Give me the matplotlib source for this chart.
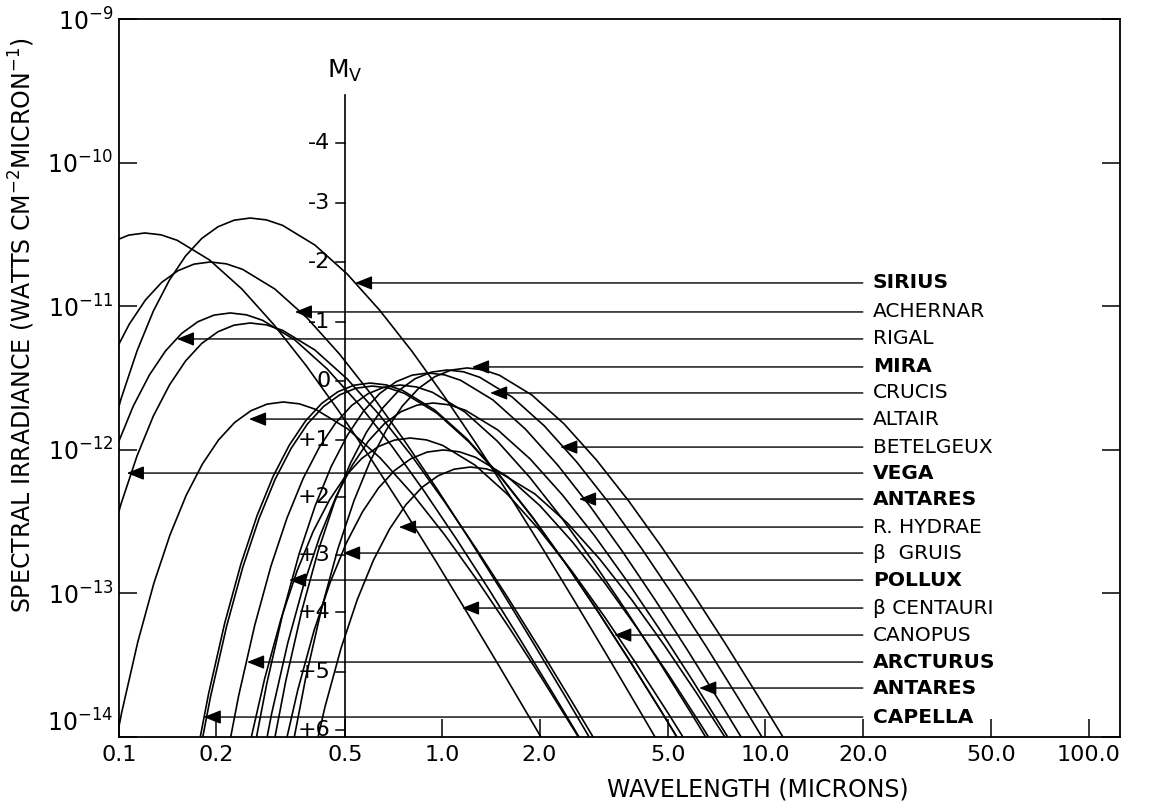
import numpy as np
import matplotlib.pyplot as plt

# curves, stored as log10(wavelength, microns) and
# log10(spectral irradiance, W cm^-2 micron^-1)
bcen_lwl = [-1.020, -0.970, -0.920, -0.870, -0.820, -0.720, -0.620, -0.520, -0.420, -0.320, -0.220, -0.120, -0.020, 0.080, 0.180, 0.280, 0.380]
bcen_lfl = [-10.551, -10.505, -10.490, -10.503, -10.541, -10.678, -10.880, -11.131, -11.417, -11.731, -12.065, -12.414, -12.775, -13.145, -13.521, -13.903, -14.288]

sirius_lwl = [-1.044, -0.994, -0.944, -0.894, -0.844, -0.794, -0.744, -0.694, -0.644, -0.594, -0.544, -0.494, -0.394, -0.294, -0.194, -0.094, 0.006, 0.106, 0.206, 0.306, 0.406, 0.506, 0.606, 0.706]
sirius_lfl = [-12.058, -11.647, -11.310, -11.035, -10.818, -10.650, -10.528, -10.447, -10.401, -10.386, -10.399, -10.437, -10.574, -10.776, -11.027, -11.313, -11.627, -11.961, -12.310, -12.671, -13.041, -13.417, -13.799, -14.184]

achernar_lwl = [-1.018, -0.968, -0.918, -0.868, -0.818, -0.768, -0.718, -0.668, -0.618, -0.518, -0.418, -0.318, -0.218, -0.118, -0.018, 0.082, 0.182, 0.282, 0.382, 0.482]
achernar_lfl = [-11.341, -11.124, -10.956, -10.834, -10.753, -10.707, -10.692, -10.705, -10.743, -10.880, -11.082, -11.333, -11.619, -11.933, -12.267, -12.616, -12.977, -13.347, -13.723, -14.105]

rigel_lwl = [-1.006, -0.956, -0.906, -0.856, -0.806, -0.756, -0.706, -0.656, -0.606, -0.556, -0.456, -0.356, -0.256, -0.156, -0.056, 0.044, 0.144, 0.244, 0.344, 0.444]
rigel_lfl = [-11.971, -11.696, -11.479, -11.311, -11.189, -11.108, -11.062, -11.047, -11.060, -11.098, -11.235, -11.437, -11.688, -11.974, -12.288, -12.622, -12.971, -13.332, -13.702, -14.078]

vega_lwl = [-1.044, -0.994, -0.944, -0.894, -0.844, -0.794, -0.744, -0.694, -0.644, -0.594, -0.544, -0.494, -0.394, -0.294, -0.194, -0.094, 0.006, 0.106, 0.206, 0.306, 0.406, 0.506]
vega_lfl = [-12.789, -12.378, -12.041, -11.766, -11.549, -11.381, -11.259, -11.178, -11.132, -11.117, -11.130, -11.168, -11.305, -11.507, -11.758, -12.044, -12.358, -12.692, -13.041, -13.402, -13.772, -14.148]

altair_lwl = [-1.042, -0.992, -0.942, -0.892, -0.842, -0.792, -0.742, -0.692, -0.642, -0.592, -0.542, -0.492, -0.442, -0.392, -0.292, -0.192, -0.092, 0.008, 0.108, 0.208, 0.308, 0.408, 0.508]
altair_lfl = [-14.416, -13.832, -13.339, -12.928, -12.591, -12.316, -12.099, -11.931, -11.809, -11.728, -11.682, -11.667, -11.680, -11.718, -11.855, -12.057, -12.308, -12.594, -12.908, -13.242, -13.591, -13.952, -14.322]

mira_lwl = [-0.473, -0.423, -0.373, -0.323, -0.273, -0.223, -0.173, -0.123, -0.073, -0.023, 0.027, 0.077, 0.127, 0.177, 0.277, 0.377, 0.477, 0.577, 0.677, 0.777, 0.877, 0.977, 1.077]
mira_lfl = [-14.179, -13.595, -13.102, -12.691, -12.354, -12.079, -11.862, -11.694, -11.572, -11.491, -11.445, -11.430, -11.443, -11.481, -11.618, -11.820, -12.071, -12.357, -12.671, -13.005, -13.354, -13.715, -14.085]

betel_lwl = [-0.534, -0.484, -0.434, -0.384, -0.334, -0.284, -0.234, -0.184, -0.134, -0.084, -0.034, 0.016, 0.066, 0.116, 0.216, 0.316, 0.416, 0.516, 0.616, 0.716, 0.816, 0.916, 1.016]
betel_lfl = [-14.193, -13.609, -13.116, -12.705, -12.368, -12.093, -11.876, -11.708, -11.586, -11.505, -11.459, -11.444, -11.457, -11.495, -11.632, -11.834, -12.085, -12.371, -12.685, -13.019, -13.368, -13.729, -14.099]

antares_lwl = [-0.593, -0.543, -0.493, -0.443, -0.393, -0.343, -0.293, -0.243, -0.193, -0.143, -0.093, -0.043, 0.007, 0.057, 0.157, 0.257, 0.357, 0.457, 0.557, 0.657, 0.757, 0.857, 0.957]
antares_lfl = [-14.214, -13.630, -13.137, -12.726, -12.389, -12.114, -11.897, -11.729, -11.607, -11.526, -11.480, -11.465, -11.478, -11.516, -11.653, -11.855, -12.106, -12.392, -12.706, -13.040, -13.389, -13.750, -14.120]

crucis_lwl = [-0.680, -0.630, -0.580, -0.530, -0.480, -0.430, -0.380, -0.330, -0.280, -0.230, -0.180, -0.130, -0.080, -0.030, 0.070, 0.170, 0.270, 0.370, 0.470, 0.570, 0.670, 0.770, 0.870]
crucis_lfl = [-14.298, -13.714, -13.221, -12.810, -12.473, -12.198, -11.981, -11.813, -11.691, -11.610, -11.564, -11.549, -11.562, -11.600, -11.737, -11.939, -12.190, -12.476, -12.790, -13.124, -13.473, -13.834, -14.204]

canopus_lwl = [-0.773, -0.723, -0.673, -0.623, -0.573, -0.523, -0.473, -0.423, -0.373, -0.323, -0.273, -0.223, -0.173, -0.123, -0.023, 0.077, 0.177, 0.277, 0.377, 0.477, 0.577, 0.677, 0.777]
canopus_lfl = [-14.284, -13.700, -13.207, -12.796, -12.459, -12.184, -11.967, -11.799, -11.677, -11.596, -11.550, -11.535, -11.548, -11.586, -11.723, -11.925, -12.176, -12.462, -12.776, -13.110, -13.459, -13.820, -14.190]

capella_lwl = [-0.767, -0.717, -0.667, -0.617, -0.567, -0.517, -0.467, -0.417, -0.367, -0.317, -0.267, -0.217, -0.167, -0.117, -0.017, 0.083, 0.183, 0.283, 0.383, 0.483, 0.583, 0.683, 0.783]
capella_lfl = [-14.305, -13.721, -13.228, -12.817, -12.480, -12.205, -11.988, -11.820, -11.698, -11.617, -11.571, -11.556, -11.569, -11.607, -11.744, -11.946, -12.197, -12.483, -12.797, -13.131, -13.480, -13.841, -14.211]

pollux_lwl = [-0.578, -0.528, -0.478, -0.428, -0.378, -0.328, -0.278, -0.228, -0.178, -0.128, -0.078, -0.028, 0.022, 0.072, 0.172, 0.272, 0.372, 0.472, 0.572, 0.672, 0.772, 0.872, 0.972]
pollux_lfl = [-14.423, -13.839, -13.346, -12.935, -12.598, -12.323, -12.106, -11.938, -11.816, -11.735, -11.689, -11.674, -11.687, -11.725, -11.862, -12.064, -12.315, -12.601, -12.915, -13.249, -13.598, -13.959, -14.329]

arcturus_lwl = [-0.599, -0.549, -0.499, -0.449, -0.399, -0.349, -0.299, -0.249, -0.199, -0.149, -0.099, -0.049, 0.001, 0.101, 0.201, 0.301, 0.401, 0.501, 0.601, 0.701, 0.801]
arcturus_lfl = [-14.083, -13.590, -13.179, -12.842, -12.567, -12.350, -12.182, -12.060, -11.979, -11.933, -11.918, -11.931, -11.969, -12.106, -12.308, -12.559, -12.845, -13.159, -13.493, -13.842, -14.203]

gruis_lwl = [-0.497, -0.447, -0.397, -0.347, -0.297, -0.247, -0.197, -0.147, -0.097, -0.047, 0.003, 0.053, 0.103, 0.203, 0.303, 0.403, 0.503, 0.603, 0.703, 0.803, 0.903]
gruis_lfl = [-14.166, -13.673, -13.262, -12.925, -12.650, -12.433, -12.265, -12.143, -12.062, -12.016, -12.001, -12.014, -12.052, -12.189, -12.391, -12.642, -12.928, -13.242, -13.576, -13.925, -14.286]

hydrae_lwl = [-0.413, -0.363, -0.313, -0.263, -0.213, -0.163, -0.113, -0.063, -0.013, 0.037, 0.087, 0.137, 0.187, 0.287, 0.387, 0.487, 0.587, 0.687, 0.787, 0.887]
hydrae_lfl = [-14.285, -13.792, -13.381, -13.044, -12.769, -12.552, -12.384, -12.262, -12.181, -12.135, -12.120, -12.133, -12.171, -12.308, -12.510, -12.761, -13.047, -13.361, -13.695, -14.044]

curves = [
    (bcen_lwl, bcen_lfl), (sirius_lwl, sirius_lfl), (achernar_lwl, achernar_lfl),
    (rigel_lwl, rigel_lfl), (vega_lwl, vega_lfl), (altair_lwl, altair_lfl),
    (mira_lwl, mira_lfl), (betel_lwl, betel_lfl), (antares_lwl, antares_lfl),
    (crucis_lwl, crucis_lfl), (canopus_lwl, canopus_lfl), (capella_lwl, capella_lfl),
    (pollux_lwl, pollux_lfl), (arcturus_lwl, arcturus_lfl), (gruis_lwl, gruis_lfl),
    (hydrae_lwl, hydrae_lfl),
]

# star labels, their leader line levels and where the arrow heads sit
star_names = ['SIRIUS', 'ACHERNAR', 'RIGAL', 'MIRA', 'CRUCIS', 'ALTAIR', 'BETELGEUX',
              'VEGA', 'ANTARES', 'R. HYDRAE', 'β  GRUIS', 'POLLUX', 'β CENTAURI',
              'CANOPUS', 'ARCTURUS', 'ANTARES', 'CAPELLA']
star_bold = [1, 0, 0, 1, 0, 0, 0, 1, 1, 0, 0, 1, 0, 0, 1, 1, 1]
leader_lfl = [-10.838, -11.040, -11.228, -11.423, -11.604, -11.786, -11.981, -12.162, -12.343,
              -12.538, -12.719, -12.907, -13.102, -13.290, -13.478, -13.659, -13.861]
arrow_lwl = [-0.270, -0.456, -0.821, 0.092, 0.148, -0.598, 0.365, -0.976, 0.423,
             -0.134, -0.307, -0.474, 0.061, 0.532, -0.604, 0.795, -0.738]

# absolute magnitude scale drawn on the 0.5 micron line
mv_labels = ['-4', '-3', '-2', '-1', '0', '+1', '+2', '+3', '+4', '+5', '+6']
mv_lfl = [-9.864, -10.281, -10.692, -11.110, -11.521, -11.932, -12.329, -12.733, -13.130, -13.547, -13.951]

xticks = [0.1, 0.2, 0.5, 1.0, 2.0, 5.0, 10.0, 20.0, 50.0, 100.0]
xticklabels = ['0.1', '0.2', '0.5', '1.0', '2.0', '5.0', '10.0', '20.0', '50.0', '100.0']
yticks = [1e-14, 1e-13, 1e-12, 1e-11, 1e-10, 1e-9]
yticklabels = [r'$10^{-14}$', r'$10^{-13}$', r'$10^{-12}$', r'$10^{-11}$', r'$10^{-10}$', r'$10^{-9}$']

fig = plt.figure(figsize=(11.51, 8.09), dpi=100)
ax = fig.add_axes([0.1034, 0.089, 0.8697, 0.8875])

for lwl, lfl in curves:
    ax.plot(10 ** np.array(lwl), 10 ** np.array(lfl), color='black', lw=1.2)

line_end = 20.0
for name, bold, lfl, tip in zip(star_names, star_bold, leader_lfl, arrow_lwl):
    y = 10 ** lfl
    ax.annotate('', xy=(10 ** tip, y), xytext=(line_end, y),
                arrowprops=dict(arrowstyle='-|>,head_length=0.7,head_width=0.28',
                                color='black', lw=1.0, shrinkA=0, shrinkB=0,
                                mutation_scale=15))
    ax.text(21.5, y, name, fontsize=14.5, fontweight='bold' if bold else 'normal',
            va='center', ha='left')

# M_V axis
mv_x = 0.5
ax.plot([mv_x, mv_x], [1e-14, 10 ** -9.53], color='black', lw=1.2)
for lab, lfl in zip(mv_labels, mv_lfl):
    y = 10 ** lfl
    ax.plot([mv_x * 10 ** -0.028, mv_x], [y, y], color='black', lw=1.1)
    ax.text(mv_x * 10 ** -0.045, y, lab, fontsize=16, ha='right', va='center')
ax.text(mv_x, 10 ** -9.36, r'$\mathrm{M}_{\mathrm{V}}$', fontsize=18, ha='center', va='center')

ax.set_xscale('log')
ax.set_yscale('log')
ax.set_xlim(0.1, 125)
ax.set_ylim(1e-14, 1e-9)
ax.set_xticks(xticks)
ax.set_xticklabels(xticklabels)
ax.set_yticks(yticks)
ax.set_yticklabels(yticklabels)
ax.minorticks_off()
ax.tick_params(axis='x', direction='in', length=13, width=1.1, labelsize=16, pad=6)
ax.tick_params(axis='y', direction='in', length=13, width=1.1, labelsize=17, pad=4,
               right=True)
ax.get_yticklabels()[0].set_va('bottom')
for sp in ax.spines.values():
    sp.set_linewidth(1.3)

fig.text(0.019, 0.598, r'SPECTRAL IRRADIANCE (WATTS CM$^{-2}$MICRON$^{-1}$)',
         rotation=90, fontsize=17, ha='center', va='center')
fig.text(0.658, 0.024, 'WAVELENGTH (MICRONS)', fontsize=17, ha='center', va='center')

fig.savefig('out.png', dpi=100)
